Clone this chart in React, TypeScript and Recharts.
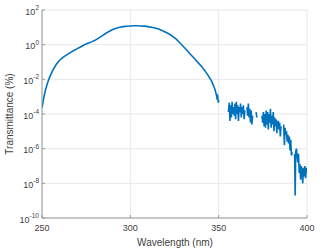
import React from 'react';
import { LineChart, Line, XAxis, YAxis, CartesianGrid } from 'recharts';

// Smooth part of the transmittance curve (wavelength in nm, transmittance in %)
const mainWl = [
  250, 251, 252, 253, 254, 256, 258, 260, 262, 264, 266, 268, 270, 272, 274, 276, 278, 280,
  282, 284, 286, 288, 290, 292, 294, 296, 298, 300, 302, 304, 306, 308, 310, 312, 314, 316,
  318, 320, 322, 324, 326, 328, 330, 332, 334, 336, 338, 340, 342, 344, 346, 347, 348, 348.6,
  349, 349.4, 349.8, 350.1,
];
const mainT = [
  2.2e-4, 8.9e-4, 2.5e-3, 5.6e-3, 1.1e-2, 3.2e-2, 7.1e-2, 0.126, 0.19, 0.26, 0.35, 0.46, 0.59,
  0.76, 0.98, 1.2, 1.45, 1.78, 2.4, 3.2, 4.4, 5.8, 7.4, 8.9, 10, 11, 11.5, 12, 12.3, 12.3, 12,
  11.7, 11, 10.2, 9.1, 7.9, 6.6, 5.2, 4.1, 3.0, 2.1, 1.3, 0.79, 0.48, 0.28, 0.17, 0.1, 6.0e-2,
  3.4e-2, 1.7e-2, 7.9e-3, 4.5e-3, 2.4e-3, 1.4e-3, 8.9e-4, 1.1e-3, 4.5e-4, 6.3e-4,
];

// Noisy part (null = gap in the measurement)
const noiseWl = [
  355.5, 356.0, 356.4, 356.8, 357.2, 357.6, 358.0, 358.4, 358.8, 359.2, 359.6, 360.0, 360.4,
  360.8, 361.2, 361.6, 362.0, 362.4, 362.8, 363.2, 363.6, 364.0, 364.4, 364.8, 365.3, 366.0,
  366.4, 366.8, 367.2, 367.6, 368.0, 368.4, 368.8, 369.2, 369.8, 371.2, 371.6, 372.2, 374.5,
  374.9, 375.3, 375.7, 376.1, 376.5, 376.9, 377.3, 377.7, 378.1, 378.5, 378.9, 379.3, 379.7,
  380.1, 380.5, 380.9, 381.3, 381.7, 382.1, 382.5, 382.9, 383.3, 383.7, 384.1, 384.5, 384.9,
  385.3, 385.8, 386.8, 387.2, 387.6, 388.0, 388.4, 388.8, 389.2, 389.6, 390.0, 390.4, 390.8,
  391.2, 391.6, 392.2, 393.0, 393.3, 393.6, 394.0, 394.4, 394.8, 395.2, 395.6, 396.0, 396.4,
  396.8, 397.2, 397.6, 398.0, 398.4, 398.8, 399.2, 399.6, 400.0,
];
const noiseT: (number | null)[] = [
  1.3e-4, 4.5e-4, 4.0e-5, 3.2e-4, 6.3e-5, 5.0e-4, 1.0e-4, 2.5e-4, 7.9e-5, 4.0e-4, 5.0e-5,
  5.0e-4, 1.0e-4, 3.2e-4, 4.0e-5, 2.5e-4, 1.3e-4, 4.0e-4, 6.3e-5, 2.5e-4, 1.0e-4, 3.2e-4,
  5.0e-5, 1.6e-4, null, 2.5e-4, 7.9e-5, 4.0e-4, 6.3e-5, 2.0e-4, 3.2e-5, 1.6e-4, 2.5e-5,
  7.9e-5, null, 1.3e-4, 6.3e-5, null, 7.9e-5, 3.2e-5, 1.3e-4, 2.0e-5, 1.0e-4, 1.6e-5,
  1.6e-4, 2.5e-5, 1.3e-4, 1.3e-5, 1.0e-4, 3.2e-5, 2.0e-4, 1.6e-5, 7.9e-5, 2.5e-5, 1.3e-4,
  1.0e-5, 6.3e-5, 2.0e-5, 5.0e-5, 7.9e-6, 3.2e-5, 4.0e-5, 1.3e-5, 3.2e-5, 5.0e-6, 2.0e-5,
  null, 2.5e-5, 1.6e-6, 1.6e-5, 6.3e-6, 1.0e-5, 2.5e-6, 6.3e-6, 2.0e-6, 5.0e-6, 7.9e-7,
  3.2e-6, 4.0e-7, 6.3e-7, null, 5.0e-7, 2.0e-9, 6.3e-7, 1.0e-6, 4.0e-7, 1.6e-7, 5.0e-7,
  4.0e-8, 1.3e-7, 1.6e-8, 1.0e-7, 5.0e-8, 1.0e-8, 7.9e-8, 2.5e-8, 1.0e-7, 2.0e-8, 7.9e-8,
  4.0e-8,
];

const xTicks = [250, 300, 350, 400];
const xTickLabels = ['250', '300', '350', '400'];
const yTicks = [1e-10, 1e-8, 1e-6, 1e-4, 1e-2, 1, 1e2];
const yTickExps = ['-10', '-8', '-6', '-4', '-2', '0', '2'];

const data = [
  ...mainWl.map((wl, i) => ({ wl, t: mainT[i] as number | null })),
  { wl: 352.5, t: null },
  ...noiseWl.map((wl, i) => ({ wl, t: noiseT[i] })),
];

const FONT = '"Liberation Sans", Arial, Helvetica, sans-serif';
const TEXT = '#404040';
const AXIS = '#9a9a9a';
const GRID = '#e8e8e8';
const LINE = '#0072BD';

const YTick = (props: any) => {
  const { x, y, payload } = props;
  const idx = yTicks.indexOf(payload.value);
  return (
    <text x={x} y={y + 4.5} textAnchor="end" fontSize={9} fill={TEXT} fontFamily={FONT}>
      <tspan>10</tspan>
      <tspan fontSize={6.5} dy={-4.5}>
        {idx >= 0 ? yTickExps[idx] : ''}
      </tspan>
    </text>
  );
};

const XTick = (props: any) => {
  const { x, y, payload } = props;
  const idx = xTicks.indexOf(payload.value);
  return (
    <text x={x} y={y + 7} textAnchor="middle" fontSize={9} fill={TEXT} fontFamily={FONT}>
      {idx >= 0 ? xTickLabels[idx] : ''}
    </text>
  );
};

const NoTick = () => <g />;

const YLabel = () => (
  <text
    x={9}
    y={114}
    transform="rotate(-90 9 114)"
    textAnchor="middle"
    dominantBaseline="central"
    fontSize={10}
    fill={TEXT}
    fontFamily={FONT}
  >
    Transmittance (%)
  </text>
);

const XLabel = () => (
  <text x={175} y={246} textAnchor="middle" fontSize={10} fill={TEXT} fontFamily={FONT}>
    Wavelength (nm)
  </text>
);

export default function App() {
  return (
    <div style={{ position: 'absolute', left: 0, top: 0, background: '#fff' }}>
      <LineChart
        width={320}
        height={252}
        data={data}
        margin={{ top: 10, right: 13, left: 0, bottom: 0 }}
      >
        <CartesianGrid stroke={GRID} strokeWidth={1} />
        <XAxis
          dataKey="wl"
          type="number"
          domain={[250, 400]}
          ticks={xTicks}
          allowDataOverflow
          height={34}
          axisLine={{ stroke: AXIS }}
          tickLine={{ stroke: AXIS }}
          tickSize={-3}
          tickMargin={9}
          tick={<XTick />}
          label={<XLabel />}
          interval={0}
        />
        <XAxis
          xAxisId="top"
          dataKey="wl"
          type="number"
          orientation="top"
          domain={[250, 400]}
          ticks={xTicks}
          allowDataOverflow
          height={0}
          axisLine={{ stroke: AXIS }}
          tickLine={{ stroke: AXIS }}
          tickSize={-3}
          tick={<NoTick />}
          interval={0}
        />
        <YAxis
          type="number"
          scale="log"
          domain={[1e-10, 1e2]}
          ticks={yTicks}
          allowDataOverflow
          width={42}
          axisLine={{ stroke: AXIS }}
          tickLine={{ stroke: AXIS }}
          tickSize={-3}
          tickMargin={6}
          tick={<YTick />}
          label={<YLabel />}
          interval={0}
        />
        <YAxis
          yAxisId="right"
          orientation="right"
          type="number"
          scale="log"
          domain={[1e-10, 1e2]}
          ticks={yTicks}
          allowDataOverflow
          width={0}
          axisLine={{ stroke: AXIS }}
          tickLine={{ stroke: AXIS }}
          tickSize={-3}
          tick={<NoTick />}
          interval={0}
        />
        <Line
          dataKey="t"
          type="linear"
          stroke={LINE}
          strokeWidth={1.6}
          dot={false}
          connectNulls={false}
          isAnimationActive={false}
        />
      </LineChart>
    </div>
  );
}
